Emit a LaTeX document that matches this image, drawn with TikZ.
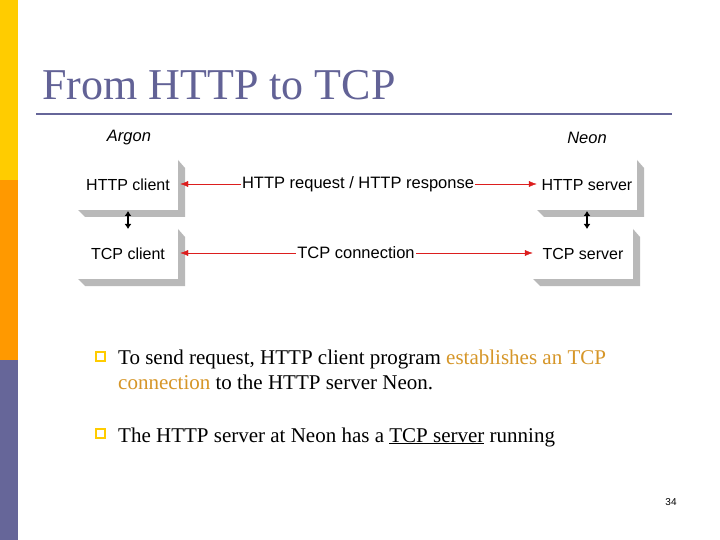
\documentclass[tikz,border=0pt]{standalone}
\usepackage{fontspec}
\setmainfont{Liberation Serif}
\newfontfamily\arial{Liberation Sans}
\usetikzlibrary{arrows.meta}
\definecolor{ttl}{RGB}{98,98,150}
\definecolor{barY}{RGB}{255,204,0}
\definecolor{barO}{RGB}{255,153,0}
\definecolor{barP}{RGB}{102,102,153}
\definecolor{orng}{RGB}{214,150,40}
\definecolor{arr}{RGB}{220,30,30}
\begin{document}
\begin{tikzpicture}[x=1pt,y=-1pt,
  box/.style={draw=none,fill=white,minimum width=100pt,minimum height=50pt,font=\arial\fontsize{16}{18}\selectfont,inner sep=0pt},
  lbl/.style={font=\arial\fontsize{16.5}{18}\selectfont,fill=white,inner sep=1pt},
  redarr/.style={draw=arr,{Latex[length=8pt,width=6pt]}-{Latex[length=8pt,width=6pt]}},
  blkarr/.style={draw=black,line width=1.6pt,{Latex[length=5pt,width=7pt]}-{Latex[length=5pt,width=7pt]}},
  txt/.style={anchor=base west,font=\fontsize{21}{25}\selectfont,inner sep=0pt}]
\useasboundingbox (0,0) rectangle (720,540);
\fill[white] (0,0) rectangle (720,540);
\fill[barY] (0,0) rectangle (18,180);
\fill[barO] (0,180) rectangle (18,360);
\fill[barP] (0,360) rectangle (18,540);
\node[anchor=base west,text=ttl,font=\fontsize{44}{48}\selectfont,inner sep=0pt] (title) at (42,100) {From HTTP to TCP};
\draw[barP,line width=2.5pt] (36,114) -- (672,114);
\foreach \x/\y in {78/160,78/229,537/160,533/229}{
  \fill[gray!55] (\x+100,\y) -- (\x+107,\y+8) -- (\x+107,\y+57) -- (\x+7,\y+57) -- (\x,\y+50) -- (\x+100,\y+50) -- cycle;
}
\node[box] (hc) at (128,185) {HTTP client};
\node[box] (tc) at (128,254) {TCP client};
\node[box] (hs) at (587,185) {HTTP server};
\node[box] (ts) at (583,254) {TCP server};
\node[font=\arial\itshape\fontsize{16.5}{18}\selectfont] (argon) at (129,138) {Argon};
\node[font=\arial\itshape\fontsize{16.5}{18}\selectfont] (neon) at (587,138) {Neon};
\draw[redarr] (hc.east) ++(2,-1) coordinate (a1) -- (hs.west |- a1);
\draw[redarr] (tc.east) ++(2,-1) coordinate (a2) -- (ts.west |- a2);
\node[lbl] (hr) at (358,184) {HTTP request / HTTP response};
\node[lbl] (tcn) at (356,253) {TCP connection};
\draw[blkarr] (128,211) -- (128,229);
\draw[blkarr] (587,211) -- (587,229);
\draw[barY,line width=1.3pt] (96,352) rectangle (105,361);
\draw[barY,line width=1.3pt] (96,429) rectangle (105,438);
\node[txt] (b1) at (118,364) {To send request, HTTP client program \textcolor{orng}{establishes an TCP}};
\node[txt] (b1b) at (118,389) {\textcolor{orng}{connection} to the HTTP server Neon.};
\node[txt] (b2) at (118,442) {The HTTP server at Neon has a \underline{TCP server} running};
\node[anchor=base,font=\arial\fontsize{10}{12}\selectfont] (pg) at (671,505) {34};
\end{tikzpicture}
\end{document}
